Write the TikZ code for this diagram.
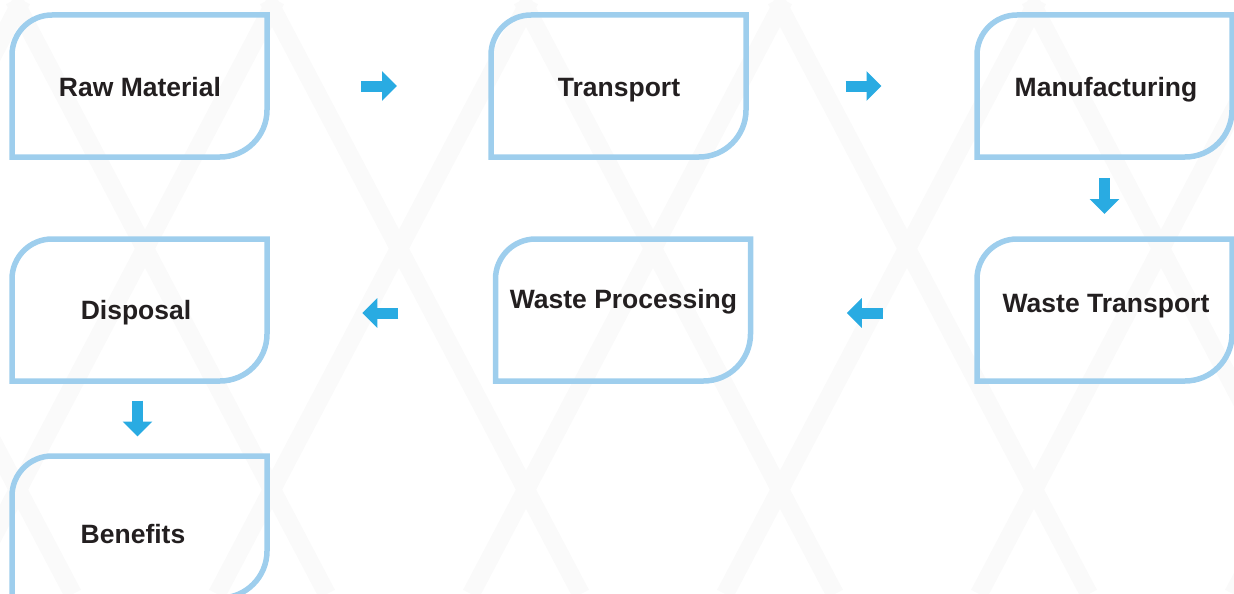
\documentclass[tikz,border=0pt]{standalone}
\usepackage{fontspec}
\setmainfont{Liberation Sans}
\usetikzlibrary{arrows.meta,calc}
\definecolor{boxblue}{RGB}{158,206,237}
\definecolor{arrowblue}{RGB}{41,171,226}
\definecolor{txt}{RGB}{35,31,32}
\definecolor{bgpat}{RGB}{250,250,250}
\tikzset{
  boxline/.style={draw=boxblue,line width=5.5pt},
  lbl/.style={font=\bfseries\fontsize{26.5}{30}\selectfont,text=txt,inner sep=0pt,anchor=base},
  barrow/.style={draw=arrowblue,line width=11pt,-{Triangle[length=15pt,width=29pt]}},
  bgline/.style={draw=bgpat,line width=18pt}
}
% #1 name, #2 cx, #3 cy, #4 text, #5 text x, #6 text baseline y
\newcommand\flowbox[6]{%
  \coordinate (#1C) at (#2,#3);
  \node[lbl] (#1) at (#5,#6) {#4};
  \draw[boxline] (#2-127.5,#3+71) -- (#2-127.5,#3-71+40)
    arc[start angle=180,end angle=270,radius=40]
    -- (#2+127.5,#3-71) -- (#2+127.5,#3+71-47)
    arc[start angle=0,end angle=90,radius=47] -- cycle;
}
\begin{document}
\begin{tikzpicture}[x=1pt,y=-1pt]
\useasboundingbox (0,0) rectangle (1234,594);
\begin{scope}
\clip (0,0) rectangle (1234,594);
\foreach \k in {-3,...,6}{
  \draw[bgline] (14+\k*254,0) -- ++(313,594);
  \draw[bgline] (530+\k*254,0) -- ++(-313,594);
}
\end{scope}
\flowbox{a}{139.5}{86}{Raw Material}{140}{96}
\flowbox{b}{618.5}{86}{Transport}{619}{96}
\flowbox{c}{1104.5}{86}{Manufacturing}{1106}{96}
\flowbox{d}{1104.5}{310}{Waste Transport}{1106}{312}
\flowbox{e}{623}{310}{Waste Processing}{623.5}{308}
\flowbox{f}{139.5}{310}{Disposal}{136}{319}
\flowbox{g}{139.5}{527}{Benefits}{133}{543}
\draw[barrow] ($(aC)!0.5!(bC)+(-18,0)$) -- ($(aC)!0.5!(bC)+(18,0)$);
\draw[barrow] ($(bC)!0.5!(cC)+(-16,0)$) -- ($(bC)!0.5!(cC)+(20,0)$);
\draw[barrow] ($(cC)!0.5!(dC)+(0,-20)$) -- ($(cC)!0.5!(dC)+(0,16)$);
\draw[barrow] ($(dC)!0.5!(eC)+(19,3)$) -- ($(dC)!0.5!(eC)+(-17,3)$);
\draw[barrow] ($(eC)!0.5!(fC)+(17,3)$) -- ($(eC)!0.5!(fC)+(-19,3)$);
\draw[barrow] ($(fC)!0.5!(gC)+(-2,-18)$) -- ($(fC)!0.5!(gC)+(-2,18)$);
\end{tikzpicture}
\end{document}
